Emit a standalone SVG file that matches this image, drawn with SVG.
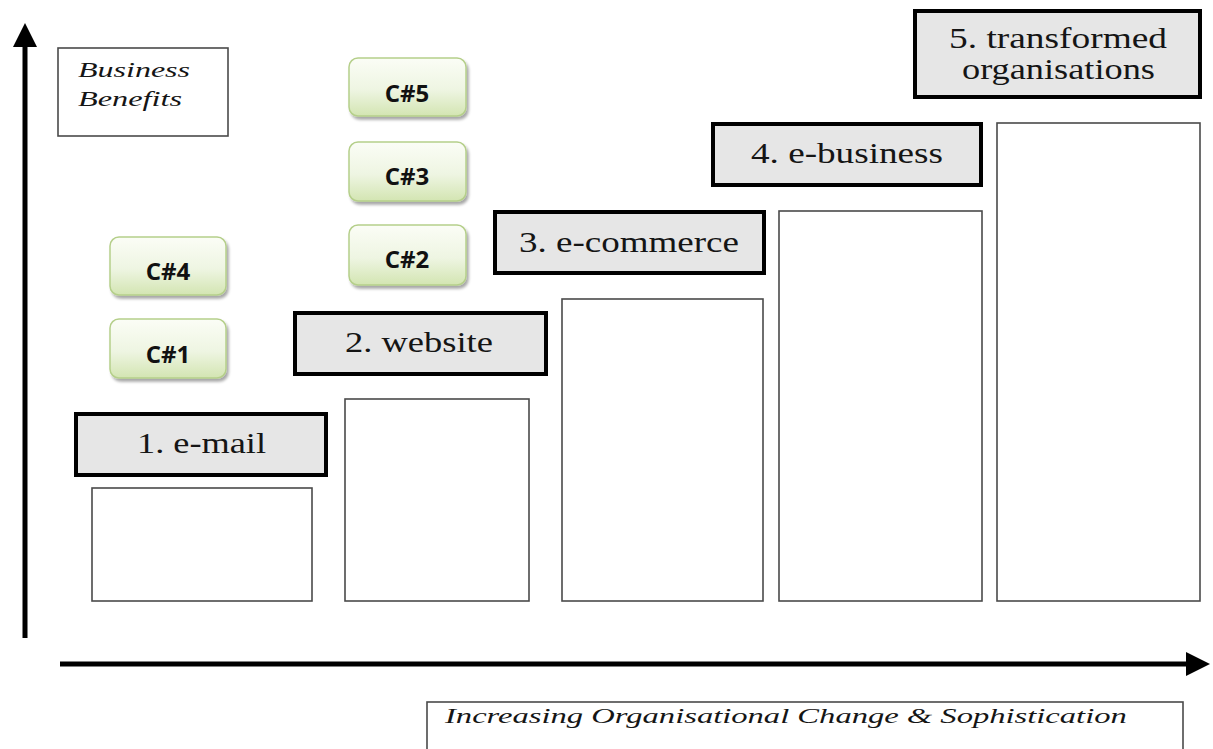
<svg xmlns="http://www.w3.org/2000/svg" width="1213" height="749" viewBox="0 0 1213 749">
  <style>
    .stage { fill: #e6e6e6; stroke: #000; stroke-width: 4; }
    .stage-text { font-family: "Liberation Serif", "DejaVu Serif", serif; font-size: 29px; fill: #151515; }
    .bar { fill: #fff; stroke: #4a4a4a; stroke-width: 1.6; }
    .axis-label { fill: #fff; stroke: #4a4a4a; stroke-width: 1.6; }
    .axis-text { font-family: "Liberation Serif", "DejaVu Serif", serif; font-style: italic; fill: #151515; }
    .chip { fill: url(#chipFill); stroke: #b5cf8a; stroke-width: 1.5; filter: url(#chipShadow); }
    .chip-text { font-family: "Open Sans", "Liberation Sans", sans-serif; font-weight: bold; font-size: 24px; fill: #111; text-anchor: middle; }
    .axis { stroke: #000; stroke-width: 5; fill: none; }
  </style>
  <defs>
    <linearGradient id="chipFill" x1="0" y1="0" x2="0" y2="1">
      <stop offset="0" stop-color="#fbfdf6"/>
      <stop offset="0.55" stop-color="#eef5e2"/>
      <stop offset="1" stop-color="#d3e5b2"/>
    </linearGradient>
    <filter id="chipShadow" x="-10%" y="-10%" width="125%" height="135%">
      <feGaussianBlur in="SourceAlpha" stdDeviation="1.5"/>
      <feOffset dx="2" dy="3" result="off"/>
      <feComponentTransfer><feFuncA type="linear" slope="0.35"/></feComponentTransfer>
      <feMerge><feMergeNode/><feMergeNode in="SourceGraphic"/></feMerge>
    </filter>
    <marker id="head" markerUnits="userSpaceOnUse" markerWidth="26" markerHeight="26" refX="2" refY="13" orient="auto">
      <path d="M0,1 L24,13 L0,25 Z" fill="#000"/>
    </marker>
  </defs>

  <rect width="1213" height="749" fill="#fff"/>

  <!-- axes -->
  <g id="connectors">
    <line class="axis" x1="25" y1="638" x2="25" y2="45" marker-end="url(#head)"/>
    <line class="axis" x1="60" y1="664" x2="1188" y2="664" marker-end="url(#head)"/>
  </g>

  <!-- axis captions (type is set wide, hence the horizontal scale) -->
  <g id="y-axis-label">
    <rect class="axis-label" x="58" y="48" width="170" height="88"/>
    <text class="axis-text" font-size="21" transform="translate(78,77) scale(1.4,1)" textLength="80" lengthAdjust="spacingAndGlyphs">Business</text>
    <text class="axis-text" font-size="21" transform="translate(78,106) scale(1.4,1)" textLength="74.3" lengthAdjust="spacingAndGlyphs">Benefits</text>
  </g>
  <g id="x-axis-label">
    <rect class="axis-label" x="427" y="702" width="756" height="60"/>
    <text class="axis-text" font-size="22" transform="translate(445,723) scale(1.4,1)" textLength="487" lengthAdjust="spacingAndGlyphs">Increasing Organisational Change &amp; Sophistication</text>
  </g>

  <!-- stage 1 -->
  <g id="stage-1">
    <rect class="bar" x="92" y="488" width="220" height="113"/>
    <rect class="stage" x="76" y="414" width="250" height="61"/>
    <text class="stage-text" transform="translate(137,453) scale(1.2,1)" textLength="107.5" lengthAdjust="spacingAndGlyphs">1. e-mail</text>
  </g>

  <!-- stage 2 -->
  <g id="stage-2">
    <rect class="bar" x="345" y="399" width="184" height="202"/>
    <rect class="stage" x="295" y="313" width="251" height="61"/>
    <text class="stage-text" transform="translate(345,352) scale(1.2,1)" textLength="123.3" lengthAdjust="spacingAndGlyphs">2. website</text>
  </g>

  <!-- stage 3 -->
  <g id="stage-3">
    <rect class="bar" x="562" y="299" width="201" height="302"/>
    <rect class="stage" x="495" y="212" width="269" height="61"/>
    <text class="stage-text" transform="translate(519,252) scale(1.2,1)" textLength="183.3" lengthAdjust="spacingAndGlyphs">3. e-commerce</text>
  </g>

  <!-- stage 4 -->
  <g id="stage-4">
    <rect class="bar" x="779" y="211" width="203" height="390"/>
    <rect class="stage" x="713" y="124" width="268" height="61"/>
    <text class="stage-text" transform="translate(751,163) scale(1.2,1)" textLength="160" lengthAdjust="spacingAndGlyphs">4. e-business</text>
  </g>

  <!-- stage 5 -->
  <g id="stage-5">
    <rect class="bar" x="997" y="123" width="203" height="478"/>
    <rect class="stage" x="915" y="11" width="285" height="86"/>
    <text class="stage-text" transform="translate(949,48) scale(1.2,1)" textLength="181.7" lengthAdjust="spacingAndGlyphs">5. transformed</text>
    <text class="stage-text" transform="translate(962,79) scale(1.2,1)" textLength="160.8" lengthAdjust="spacingAndGlyphs">organisations</text>
  </g>

  <!-- case chips -->
  <g id="c4">
    <rect class="chip" x="110" y="237" width="116" height="58" rx="9"/>
    <text class="chip-text" x="168" y="280">C#4</text>
  </g>
  <g id="c1">
    <rect class="chip" x="110" y="319" width="116" height="59" rx="9"/>
    <text class="chip-text" x="168" y="363">C#1</text>
  </g>
  <g id="c5">
    <rect class="chip" x="349" y="58" width="117" height="58" rx="9"/>
    <text class="chip-text" x="407" y="102">C#5</text>
  </g>
  <g id="c3">
    <rect class="chip" x="349" y="142" width="117" height="59" rx="9"/>
    <text class="chip-text" x="407" y="185">C#3</text>
  </g>
  <g id="c2">
    <rect class="chip" x="349" y="225" width="117" height="60" rx="9"/>
    <text class="chip-text" x="407" y="268">C#2</text>
  </g>
</svg>
